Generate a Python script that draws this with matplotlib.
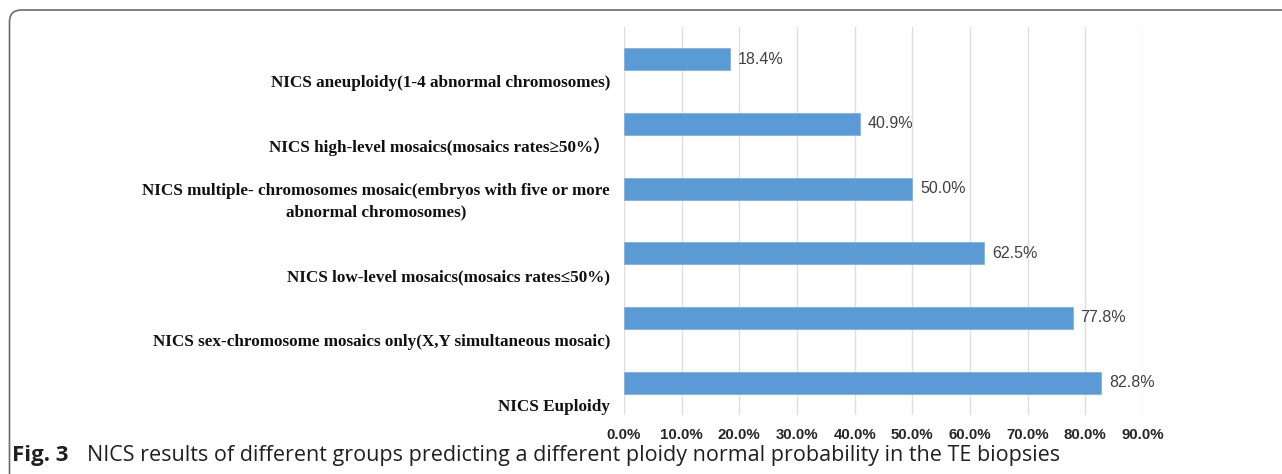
import matplotlib
matplotlib.use('Agg')
from matplotlib import pyplot as plt
from matplotlib import transforms
from matplotlib.patches import FancyBboxPatch
from matplotlib.ticker import FuncFormatter

groups = [
    'NICS aneuploidy(1-4 abnormal chromosomes)',
    'NICS high-level mosaics(mosaics rates\u226550%\uff09',
    'NICS multiple- chromosomes mosaic(embryos with five or more\nabnormal chromosomes)',
    'NICS low-level mosaics(mosaics rates\u226450%)',
    'NICS sex-chromosome mosaics only(X,Y simultaneous mosaic)',
    'NICS Euploidy',
]
normal_prob = [18.4, 40.9, 50.0, 62.5, 77.8, 82.8]
xticks = [0, 10, 20, 30, 40, 50, 60, 70, 80, 90]

W, H = 12.82, 4.74
fig = plt.figure(figsize=(W, H), dpi=100)

# rounded frame of the figure box (runs off right and bottom edge)
frame = FancyBboxPatch((0.095, -0.4), 13.5, H - 0.10 + 0.4,
                       boxstyle='round,pad=0,rounding_size=0.12',
                       transform=fig.dpi_scale_trans, fill=False,
                       edgecolor='#6b6b6b', linewidth=1.2)
fig.patches.append(frame)

ax = fig.add_axes([624 / 1282, 1 - 415 / 474, (1143 - 624) / 1282, (415 - 27) / 474])

y = list(range(len(groups)))
ax.barh(y, normal_prob, height=0.34, color='#5B9BD5', edgecolor='#7fb2e0', linewidth=0.6, zorder=3)
for yi, v in zip(y, normal_prob):
    ax.annotate('%.1f%%' % v, (v, yi), xytext=(5.5, 0), textcoords='offset points',
                va='center', ha='left', fontsize=11.5, color='#404040',
                family=['Liberation Sans', 'DejaVu Sans'])

ax.set_xlim(0, 90)
ax.set_ylim(len(groups) - 0.5, -0.5)
ax.set_xticks(xticks)
ax.xaxis.set_major_formatter(FuncFormatter(lambda v, p: '%.1f%%' % v))
ax.grid(axis='x', color='#dedede', linewidth=1.0, zorder=0)
for s in ax.spines.values():
    s.set_visible(False)
ax.tick_params(axis='both', length=0)
ax.tick_params(axis='x', pad=9.5)
ax.tick_params(axis='y', pad=10)
for lab in ax.get_xticklabels():
    lab.set_fontfamily(['Liberation Sans', 'DejaVu Sans'])
    lab.set_fontweight('bold')
    lab.set_fontsize(10.8)
    lab.set_color('#262626')

ax.set_yticks(y)
ax.set_yticklabels(groups, fontsize=12.3, fontweight='bold',
                   family=['Liberation Serif', 'Noto Sans CJK SC', 'DejaVu Serif'],
                   va='baseline', ha='right', multialignment='center',
                   linespacing=1.45, color='#111111')
# category labels sit a little below their bars
shift = transforms.ScaledTranslation(0, -28 / 100, fig.dpi_scale_trans)
for lab in ax.get_yticklabels():
    lab.set_transform(lab.get_transform() + shift)

fig.text(12 / 1282, 1 - 461 / 474, 'Fig. 3', fontsize=16, fontweight='bold',
         color='#231f20', family=['Open Sans', 'DejaVu Sans'], va='baseline')
fig.text(87 / 1282, 1 - 461 / 474,
         'NICS results of different groups predicting a different ploidy normal probability in the TE biopsies',
         fontsize=15.5, color='#231f20', family=['Open Sans', 'DejaVu Sans'], va='baseline')

fig.savefig('out.png', dpi=100)
